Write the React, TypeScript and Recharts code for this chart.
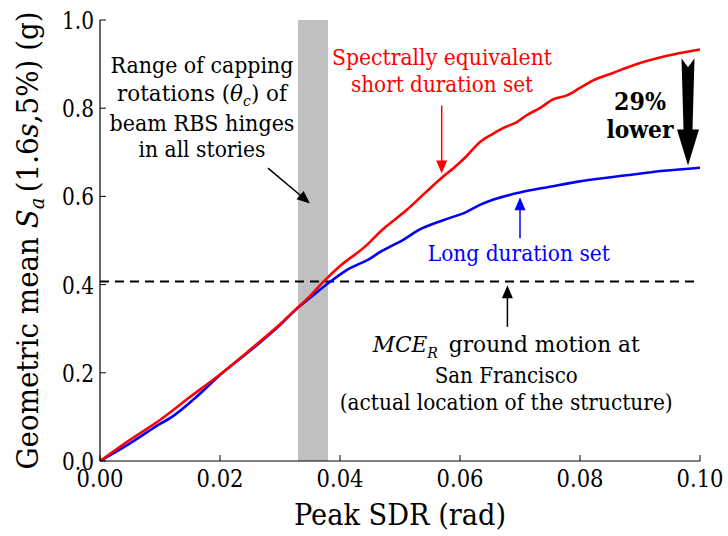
import React from "react";
import {
  LineChart,
  Line,
  XAxis,
  YAxis,
  ReferenceArea,
  ReferenceLine,
  ReferenceDot,
} from "recharts";

const shortX = [0, 0.005, 0.01, 0.015, 0.02, 0.025, 0.03, 0.0325, 0.035, 0.0372, 0.04, 0.0444, 0.0467, 0.0511, 0.0545, 0.0572, 0.0589, 0.061, 0.0633, 0.0655, 0.0675, 0.0694, 0.0711, 0.0733, 0.0755, 0.0778, 0.08, 0.0822, 0.0855, 0.0888, 0.094, 0.1];
const shortY = [0, 0.048, 0.093, 0.145, 0.196, 0.252, 0.31, 0.342, 0.374, 0.406, 0.442, 0.489, 0.52, 0.569, 0.612, 0.645, 0.664, 0.69, 0.723, 0.742, 0.757, 0.768, 0.784, 0.8, 0.82, 0.829, 0.846, 0.863, 0.88, 0.897, 0.917, 0.933];

const longX = [0, 0.005, 0.01, 0.012, 0.0158, 0.02, 0.025, 0.03, 0.0325, 0.035, 0.0383, 0.0411, 0.045, 0.0467, 0.0506, 0.0533, 0.0572, 0.0611, 0.0635, 0.0656, 0.07, 0.075, 0.0794, 0.0878, 0.094, 0.1];
const longY = [0, 0.04, 0.084, 0.1, 0.142, 0.195, 0.25, 0.308, 0.342, 0.37, 0.406, 0.433, 0.459, 0.474, 0.502, 0.525, 0.546, 0.565, 0.582, 0.593, 0.609, 0.622, 0.633, 0.648, 0.658, 0.665];

const xTicks = [0, 0.02, 0.04, 0.06, 0.08, 0.1];
const yTicks = [0, 0.2, 0.4, 0.6, 0.8, 1.0];

const cappingRange = [0.033, 0.038];
const mceLevel = 0.407;

const shortData = shortX.map((x, i) => ({ x, y: shortY[i] }));
const longData = longX.map((x, i) => ({ x, y: longY[i] }));

const FS = { fontFamily: '"DejaVu Serif", serif' };

type TProps = {
  x: number;
  y: number;
  len?: number;
  size: number;
  anchor?: "start" | "middle" | "end";
  color?: string;
  bold?: boolean;
  transform?: string;
  children: React.ReactNode;
};
const T = ({ x, y, len, size, anchor = "middle", color = "#000", bold = false, transform, children }: TProps) => (
  <text
    x={x}
    y={y}
    textAnchor={anchor}
    fontSize={size}
    fill={color}
    fontWeight={bold ? "bold" : "normal"}
    style={FS}
    transform={transform}
    {...(len ? { textLength: len, lengthAdjust: "spacingAndGlyphs" } : {})}
  >
    {children}
  </text>
);

const BottomTick = (props: any) => {
  const { x, y, payload } = props;
  return (
    <g>
      <line x1={x} y1={y} x2={x} y2={y - 6} stroke="#000" strokeWidth={1} />
      <T x={x} y={y + 26} size={24} len={47}>
        {Number(payload.value).toFixed(2)}
      </T>
    </g>
  );
};
const TopTick = (props: any) => {
  const { x, y } = props;
  return <line x1={x} y1={y} x2={x} y2={y + 6} stroke="#000" strokeWidth={1} />;
};
const LeftTick = (props: any) => {
  const { x, y, payload } = props;
  return (
    <g>
      <line x1={x} y1={y} x2={x + 6} y2={y} stroke="#000" strokeWidth={1} />
      <T x={x - 6} y={y + 9} size={24} len={32} anchor="end">
        {Number(payload.value).toFixed(1)}
      </T>
    </g>
  );
};
const RightTick = (props: any) => {
  const { x, y } = props;
  return <line x1={x} y1={y} x2={x - 6} y2={y} stroke="#000" strokeWidth={1} />;
};

const arrowHead = (x1: number, y1: number, x2: number, y2: number, len: number, half: number) => {
  const dx = x2 - x1;
  const dy = y2 - y1;
  const L = Math.sqrt(dx * dx + dy * dy) || 1;
  const ux = dx / L;
  const uy = dy / L;
  const bx = x2 - ux * len;
  const by = y2 - uy * len;
  const px = -uy * half;
  const py = ux * half;
  return `${x2},${y2} ${bx + px},${by + py} ${bx - px},${by - py}`;
};

const makeArrow = (color: string) => (props: any) => {
  const { x1, y1, x2, y2 } = props;
  const dx = x2 - x1;
  const dy = y2 - y1;
  const L = Math.sqrt(dx * dx + dy * dy) || 1;
  const ex = x2 - (dx / L) * 10;
  const ey = y2 - (dy / L) * 10;
  return (
    <g>
      <line x1={x1} y1={y1} x2={ex} y2={ey} stroke={color} strokeWidth={1.5} />
      <polygon points={arrowHead(x1, y1, x2, y2, 13, 5.5)} fill={color} />
    </g>
  );
};

const BigArrow = (props: any) => {
  const { x1, y1, y2 } = props;
  const x = x1;
  const pts = [
    [x - 6.5, y1],
    [x, y1 + 9],
    [x + 6.5, y1],
    [x + 4.5, y2 - 36],
    [x + 11, y2 - 36],
    [x, y2],
    [x - 11, y2 - 36],
    [x - 4.5, y2 - 36],
  ]
    .map((p) => p.join(","))
    .join(" ");
  return <polygon points={pts} fill="#000" />;
};

type LineSpec = { content: React.ReactNode; len: number; dy: number };
const TextBlock = (lines: LineSpec[], color: string, size: number, bold = false) => (props: any) => {
  const { cx, cy } = props;
  return (
    <g>
      {lines.map((ln, i) => (
        <T key={i} x={cx} y={cy + ln.dy} len={ln.len} size={size} color={color} bold={bold}>
          {ln.content}
        </T>
      ))}
    </g>
  );
};

const cappingText = TextBlock(
  [
    { content: "Range of capping", len: 183, dy: 0 },
    {
      content: (
        <>
          rotations (<tspan fontStyle="italic">θ</tspan>
          <tspan fontStyle="italic" fontSize={15} dy={5}>c</tspan>
          <tspan dy={-5}>) of</tspan>
        </>
      ),
      len: 170,
      dy: 27.5,
    },
    { content: "beam RBS hinges", len: 185, dy: 58 },
    { content: "in all stories", len: 127, dy: 84 },
  ],
  "#000",
  23
);

const shortText = TextBlock(
  [
    { content: "Spectrally equivalent", len: 220, dy: 0 },
    { content: "short duration set", len: 182, dy: 27 },
  ],
  "#ff0000",
  23
);
const lowerText = TextBlock(
  [
    { content: "29%", len: 52, dy: 0 },
    { content: "lower", len: 67, dy: 28 },
  ],
  "#000",
  25,
  true
);
const longText = TextBlock([{ content: "Long duration set", len: 182, dy: 0 }], "#0000ff", 23);
const mceText = TextBlock(
  [
    {
      content: (
        <>
          <tspan fontStyle="italic">MCE</tspan>
          <tspan fontStyle="italic" fontSize={15} dy={6}>R</tspan>
          <tspan dy={-6}>{"\u2002ground motion at"}</tspan>
        </>
      ),
      len: 267,
      dy: 0,
    },
    { content: "San Francisco", len: 143, dy: 31.5 },
    { content: "(actual location of the structure)", len: 333, dy: 58.5 },
  ],
  "#000",
  23
);

const YLabel = (props: any) => {
  const { viewBox } = props;
  const cx = viewBox.x + 38;
  const cy = viewBox.y + viewBox.height / 2;
  return (
    <T x={cx} y={cy} size={30} len={458} transform={`rotate(-90, ${cx}, ${cy})`}>
      Geometric mean <tspan fontStyle="italic">S</tspan>
      <tspan fontStyle="italic" fontSize={21} dy={6}>a</tspan>
      <tspan dy={-6}>{"\u2009(1.6"}</tspan>
      <tspan fontStyle="italic">s</tspan>
      <tspan>,5%) (g)</tspan>
    </T>
  );
};

const XLabel = (props: any) => {
  const { viewBox } = props;
  return (
    <T x={viewBox.x + viewBox.width / 2} y={viewBox.y + 64} size={29} len={212}>
      Peak SDR (rad)
    </T>
  );
};

export default function App() {
  return (
    <div style={{ position: "absolute", left: 0, top: 0, width: 728, height: 536, background: "#fff" }}>
      <LineChart width={728} height={536} margin={{ top: 20, right: 28, bottom: 0, left: 0 }}>
        <XAxis
          dataKey="x"
          type="number"
          domain={[0, 0.1]}
          ticks={xTicks}
          interval={0}
          height={75}
          tickSize={0}
          tickMargin={0}
          tick={<BottomTick />}
          tickLine={false}
          axisLine={{ stroke: "#000", strokeWidth: 1.2 }}
          allowDataOverflow
          label={<XLabel />}
        />
        <XAxis
          xAxisId="top"
          orientation="top"
          type="number"
          domain={[0, 0.1]}
          ticks={xTicks}
          interval={0}
          height={0}
          tickSize={0}
          tickMargin={0}
          tick={<TopTick />}
          tickLine={false}
          axisLine={{ stroke: "#000", strokeWidth: 1.2 }}
          allowDataOverflow
        />
        <YAxis
          type="number"
          domain={[0, 1]}
          ticks={yTicks}
          interval={0}
          width={100}
          tickSize={0}
          tickMargin={0}
          tick={<LeftTick />}
          tickLine={false}
          axisLine={{ stroke: "#000", strokeWidth: 1.2 }}
          allowDataOverflow
          label={<YLabel />}
        />
        <YAxis
          yAxisId="right"
          orientation="right"
          type="number"
          domain={[0, 1]}
          ticks={yTicks}
          interval={0}
          width={0}
          tickSize={0}
          tickMargin={0}
          tick={<RightTick />}
          tickLine={false}
          axisLine={{ stroke: "#000", strokeWidth: 1.2 }}
          allowDataOverflow
        />
        <ReferenceArea
          x1={cappingRange[0]}
          x2={cappingRange[1]}
          y1={0}
          y2={1}
          fill="#c0c0c0"
          fillOpacity={1}
          stroke="none"
        />
        <ReferenceLine y={mceLevel} stroke="#000" strokeWidth={2} strokeDasharray="9 6" />
        <Line data={longData} dataKey="y" type="monotone" stroke="#0000ff" strokeWidth={2.6} dot={false} isAnimationActive={false} />
        <Line data={shortData} dataKey="y" type="monotone" stroke="#ff0000" strokeWidth={2.6} dot={false} isAnimationActive={false} />
        <ReferenceDot x={0.017} y={0.879} r={0} shape={cappingText} />
        <ReferenceLine segment={[{ x: 0.028, y: 0.664 }, { x: 0.035, y: 0.584 }]} shape={makeArrow("#000")} />
        <ReferenceDot x={0.057} y={0.897} r={0} shape={shortText} />
        <ReferenceLine segment={[{ x: 0.05695, y: 0.806 }, { x: 0.05695, y: 0.652 }]} shape={makeArrow("#ff0000")} />
        <ReferenceDot x={0.09} y={0.795} r={0} shape={lowerText} />
        <ReferenceLine segment={[{ x: 0.098, y: 0.913 }, { x: 0.098, y: 0.67 }]} shape={<BigArrow />} />
        <ReferenceDot x={0.0698} y={0.4537} r={0} shape={longText} />
        <ReferenceLine segment={[{ x: 0.07, y: 0.505 }, { x: 0.07, y: 0.598 }]} shape={makeArrow("#0000ff")} />
        <ReferenceDot x={0.0677} y={0.2476} r={0} shape={mceText} />
        <ReferenceLine segment={[{ x: 0.0679, y: 0.304 }, { x: 0.0679, y: 0.3986 }]} shape={makeArrow("#000")} />
      </LineChart>
    </div>
  );
}
